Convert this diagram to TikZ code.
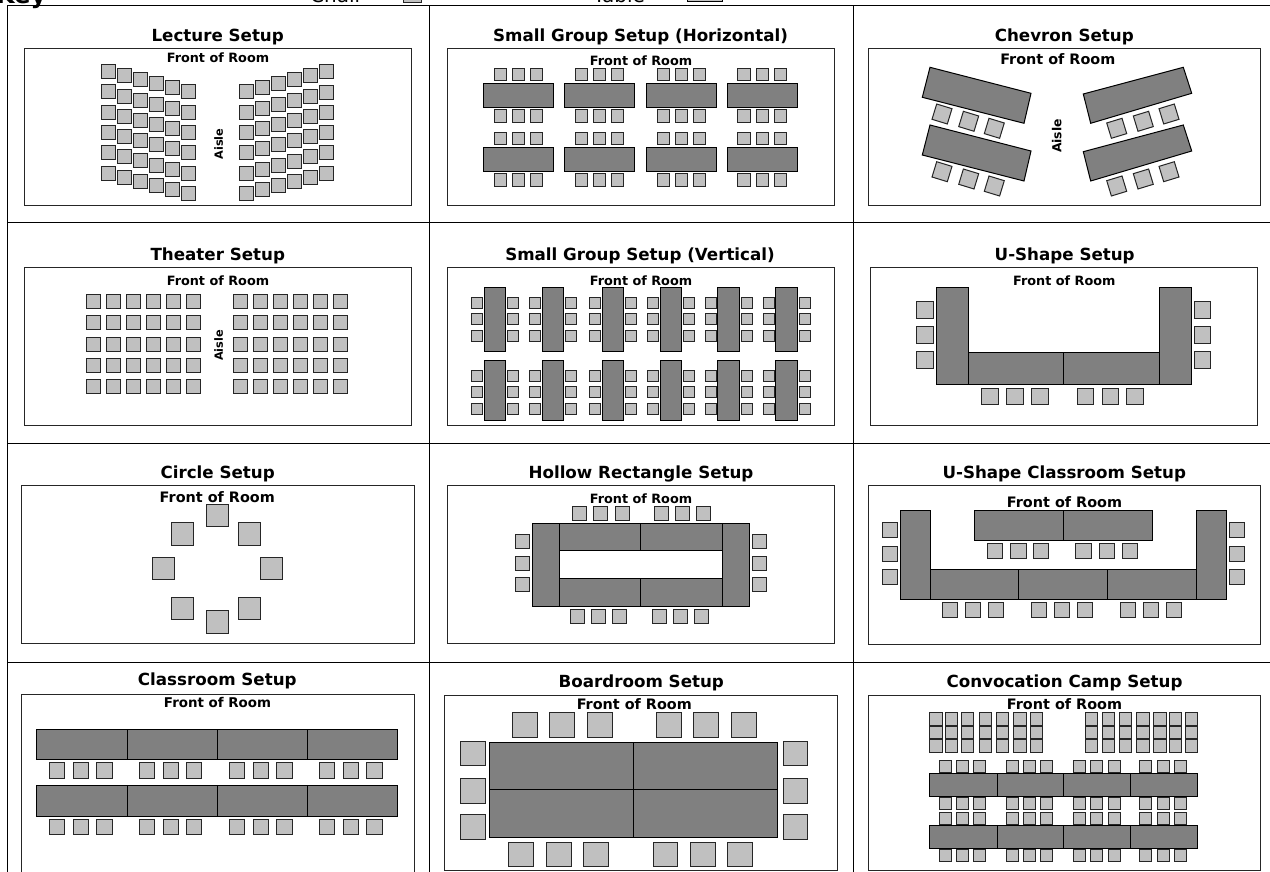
\documentclass[tikz,border=0pt]{standalone}
\usepackage{fontspec}
\setmainfont{DejaVu Sans}
\tikzset{
  chair/.style={draw=black!85,fill=chairgray,line width=1pt},
  tablebox/.style={draw=black,fill=tablegray,line width=1pt},
  room/.style={draw=black!85,line width=1pt},
  gridline/.style={draw=black,line width=1pt},
  titletext/.style={anchor=base,inner sep=0pt,font=\fontsize{16.7}{18}\selectfont\bfseries},
  fronttext/.style={anchor=base,inner sep=0pt,font=\fontsize{12.8}{14}\selectfont\bfseries},
  frontmid/.style={anchor=base,inner sep=0pt,font=\fontsize{13.4}{15}\selectfont\bfseries},
  frontbig/.style={anchor=base,inner sep=0pt,font=\fontsize{14.4}{16}\selectfont\bfseries},
  aisletext/.style={inner sep=0pt,rotate=90,font=\fontsize{11.3}{13}\selectfont\bfseries},
  aislebig/.style={inner sep=0pt,rotate=90,font=\fontsize{12.4}{14}\selectfont\bfseries},
  keytext/.style={anchor=base west,inner sep=0pt,font=\fontsize{20}{22}\selectfont},
}
\definecolor{chairgray}{HTML}{C0C0C0}
\definecolor{tablegray}{HTML}{808080}
% size, y, list of x
\newcommand{\chrow}[3]{\foreach \cx in {#3}{\draw[chair] (\cx,#2) rectangle +(#1,#1);}}
% size, x, list of y
\newcommand{\chcol}[3]{\foreach \cy in {#3}{\draw[chair] (#2,\cy) rectangle +(#1,#1);}}
% x1 y1 x2 y2
\newcommand{\tb}[4]{\draw[tablebox] (#1,#2) rectangle (#3,#4);}
% rotated chair: cx cy angle
\newcommand{\rch}[3]{\draw[chair,rotate around={#3:(#1,#2)}] ({#1-8},{#2-8}) rectangle ({#1+8},{#2+8});}
\begin{document}
\begin{tikzpicture}[x=1pt,y=-1pt]
\useasboundingbox (0,0) rectangle (1270,872);
\clip (0,0) rectangle (1270,872);
\fill[white] (0,0) rectangle (1270,872);
% frame
\draw[gridline] (7,880) -- (7,6) -- (1275,6);
\draw[gridline] (429,6) -- (429,880);
\draw[gridline] (853,6) -- (853,880);
\draw[gridline] (7,222) -- (1275,222);
\draw[gridline] (7,443) -- (1275,443);
\draw[gridline] (7,662.5) -- (1275,662.5);
% key
\node[anchor=base west,inner sep=0pt,font=\fontsize{24}{26}\selectfont\bfseries] (keylabel) at (-4,4) {Key};
\node[keytext] (chairlabel) at (310,2.5) {Chair};
\node[keytext] (tablelabel) at (593,2.5) {Table};
\draw[chair] (403,-15) rectangle (421,2.5);
\draw[tablebox,fill=chairgray] (687,-12) rectangle (722,2);

% ---- Lecture
\node[titletext] (t1) at (217.7,42) {Lecture Setup};
\draw[room] (24,49) rectangle (411,206);
\node[fronttext] (f1) at (218,62.7) {Front of Room};
\node[aisletext] (a1) at (218.7,144) {Aisle};
\foreach \r in {0,...,5}{\foreach \c in {0,...,5}{
  \draw[chair] ({101.3+16*\c},{64.7+4.05*\c+20.3*\r}) rectangle +(14,14);
  \draw[chair] ({239.3+16*\c},{85-4.05*\c+20.3*\r}) rectangle +(14,14);
}}

% ---- Small group horizontal
\node[titletext] (t2) at (640.5,42) {Small Group Setup (Horizontal)};
\draw[room] (447.3,49) rectangle (834.3,206);
\node[fronttext] (f2) at (641,66) {Front of Room};
\foreach \tx in {483.3,564.3,646.3,727}{
  \tb{\tx}{83.3}{\tx+70.5}{107.3}
  \tb{\tx}{147.7}{\tx+70.5}{171.7}
  \foreach \o in {10.7,29,47}{
    \foreach \ty in {68.7,110,132.7,174}{
      \draw[chair] ({\tx+\o},\ty) rectangle +(12.3,12.3);
    }
  }
}

% ---- Chevron
\node[titletext] (t3) at (1064.3,42) {Chevron Setup};
\draw[room] (868.3,49) rectangle (1260,206);
\node[frontbig] (f3) at (1057.8,65) {Front of Room};
\node[aislebig] (a3) at (1056.7,136) {Aisle};
\foreach \d in {0,57.7}{
  \draw[tablebox] (930,67.3+\d) -- (1031,93.3+\d) -- (1024,123.3+\d) -- (922.3,97.3+\d) -- cycle;
  \draw[tablebox] (1183.3,67.3+\d) -- (1191.7,93.3+\d) -- (1090.7,123.3+\d) -- (1083.3,94+\d) -- cycle;
  \rch{942}{114+\d}{-17}
  \rch{968.7}{121.3+\d}{-17}
  \rch{994.3}{128.3+\d}{-17}
  \rch{1116.7}{128.3+\d}{17}
  \rch{1143.3}{121.3+\d}{17}
  \rch{1169}{114+\d}{17}
}

% ---- Theater
\node[titletext] (t4) at (217.8,260) {Theater Setup};
\draw[room] (24,267.3) rectangle (411,425);
\node[fronttext] (f4) at (218,285) {Front of Room};
\node[aisletext] (a4) at (218.7,345.5) {Aisle};
\foreach \r in {0,...,4}{\foreach \c in {0,...,5}{
  \draw[chair] ({86.7+20*\c},{294.3+21.4*\r}) rectangle +(14,14);
  \draw[chair] ({233.3+20*\c},{294.3+21.4*\r}) rectangle +(14,14);
}}

% ---- Small group vertical
\node[titletext] (t5) at (640,260) {Small Group Setup (Vertical)};
\draw[room] (447.3,267.3) rectangle (834.3,425);
\node[fronttext] (f5) at (641,285) {Front of Room};
\foreach \tx in {484,542.3,602,660,717.7,775.7}{
  \tb{\tx}{287.3}{\tx+21.3}{351.7}
  \tb{\tx}{360.3}{\tx+21.3}{420.7}
  \foreach \ty in {297,313.3,330,370,386.3,403}{
    \draw[chair] ({\tx-12.7},\ty) rectangle +(11,11);
    \draw[chair] ({\tx+23.3},\ty) rectangle +(11,11);
  }
}

% ---- U-shape
\node[titletext] (t6) at (1064.7,260) {U-Shape Setup};
\draw[room] (870.7,267.3) rectangle (1257.7,425);
\node[fronttext] (f6) at (1064.3,285) {Front of Room};
\tb{936.7}{287.3}{968.7}{384.3}
\tb{1159.3}{287.3}{1191}{384.3}
\tb{968.7}{352}{1063.7}{384.3}
\tb{1063.7}{352}{1159.3}{384.3}
\chcol{16.7}{916.7}{301.3,326.3,351.3}
\chcol{16.7}{1194}{301.3,326.3,351.3}
\chrow{16.7}{388}{981.3,1006.3,1031.3,1077,1102,1126.7}

% ---- Circle
\node[titletext] (t7) at (217.7,478) {Circle Setup};
\draw[room] (21.7,485.7) rectangle (414.3,643.3);
\node[frontbig] (f7) at (217.3,502.3) {Front of Room};
\chrow{22.3}{504}{206}
\chrow{22.3}{522.7}{171,238.3}
\chrow{22.3}{557.3}{152,260}
\chrow{22.3}{597.3}{171,238.3}
\chrow{22.3}{610.7}{206}

% ---- Hollow rectangle
\node[titletext] (t8) at (641,478) {Hollow Rectangle Setup};
\draw[room] (447.3,485.7) rectangle (834.3,643);
\node[fronttext] (f8) at (641,503.3) {Front of Room};
\tb{532}{523.3}{559}{606.7}
\tb{722.3}{523.3}{749.3}{606.7}
\tb{559}{523.3}{640.7}{550.7}
\tb{640.7}{523.3}{722.3}{550.7}
\tb{559}{578.3}{640.7}{606.7}
\tb{640.7}{578.3}{722.3}{606.7}
\chrow{14}{506}{572.3,593.3,615,654,675.3,696.7}
\chrow{14}{609}{570.3,591.7,612.7,652,673.3,694.7}
\chcol{14}{515}{534.7,556.3,577.7}
\chcol{14}{752.7}{534.7,556.3,577.7}

% ---- U-shape classroom
\node[titletext] (t9) at (1064.3,478) {U-Shape Classroom Setup};
\draw[room] (868.3,485.7) rectangle (1260,644);
\node[frontbig] (f9) at (1064.5,507.3) {Front of Room};
\tb{974.7}{510.3}{1063.3}{540.3}
\tb{1063.3}{510.3}{1152.3}{540.3}
\tb{900.3}{510.3}{930.3}{599.3}
\tb{1196.3}{510.3}{1226.3}{599.3}
\tb{930.3}{569.3}{1018.7}{599.3}
\tb{1018.7}{569.3}{1107.7}{599.3}
\tb{1107.7}{569.3}{1196.3}{599.3}
\chrow{15.3}{543.3}{987.3,1010.7,1033.3,1075.7,1099.3,1122}
\chrow{15.3}{602.3}{942.3,965.3,988.3,1031.3,1054.3,1077.3,1120.3,1143.3,1166.3}
\chcol{15.3}{882.3}{522.3,546,569}
\chcol{15.3}{1229.3}{522.3,546,569}

% ---- Classroom
\node[titletext] (t10) at (217.3,685.7) {Classroom Setup};
\draw[room] (21.3,880) -- (21.3,694) -- (414.3,694) -- (414.3,880);
\node[frontmid] (f10) at (217.5,707.7) {Front of Room};
\foreach \ty in {729.3,785.7}{
  \tb{36.3}{\ty}{127}{\ty+30.4}
  \tb{127}{\ty}{217.3}{\ty+30.4}
  \tb{217.3}{\ty}{307}{\ty+30.4}
  \tb{307}{\ty}{397.7}{\ty+30.4}
}
\chrow{15.3}{762.7}{49.3,73.3,96.7,139.3,163.3,186.3,229.3,253.3,276.7,319.3,343.3,366.7}
\chrow{15.3}{819}{49.3,73.3,96.7,139.3,163.3,186.3,229.3,253.3,276.7,319.3,343.3,366.7}

% ---- Boardroom
\node[titletext] (t11) at (641.3,687.7) {Boardroom Setup};
\draw[room] (444.7,695) rectangle (837.3,870.7);
\node[frontbig] (f11) at (634.3,709.3) {Front of Room};
\tb{489.7}{742}{633.7}{789.3}
\tb{633.7}{742}{777.7}{789.3}
\tb{489.7}{789.3}{633.7}{837}
\tb{633.7}{789.3}{777.7}{837}
\chrow{24.7}{712.3}{512.7,549.7,587.7,656.7,693.3,731.3}
\chrow{24.7}{842}{508.7,546.7,583.7,653,690.7,727.7}
\chcol{24.7}{460.3}{741,778.3,814.7}
\chcol{24.7}{783}{741,778.3,814.7}

% ---- Convocation
\node[titletext] (t12) at (1064.5,687.7) {Convocation Camp Setup};
\draw[room] (868.3,695) rectangle (1260,870.7);
\node[frontbig] (f12) at (1064.5,709.3) {Front of Room};
\foreach \ty in {712.7,726.3,739.7}{
  \chrow{12.3}{\ty}{929.7,945.3,961.3,979,996.3,1013.7,1030.3,1085.3,1102,1119,1136.7,1153.7,1169.3,1185}
}
\foreach \ty in {773.7,825.7}{
  \tb{929.7}{\ty}{997}{\ty+22.5}
  \tb{997}{\ty}{1063.7}{\ty+22.5}
  \tb{1063.7}{\ty}{1130.7}{\ty+22.5}
  \tb{1130.7}{\ty}{1197.7}{\ty+22.5}
}
\foreach \ty in {760.3,797.3,812.7,849.7}{
  \chrow{12}{\ty}{939,956.3,973.7,1006.3,1023.3,1040.7,1073.3,1090.7,1108,1139.7,1157,1174.3}
}
\end{tikzpicture}
\end{document}
